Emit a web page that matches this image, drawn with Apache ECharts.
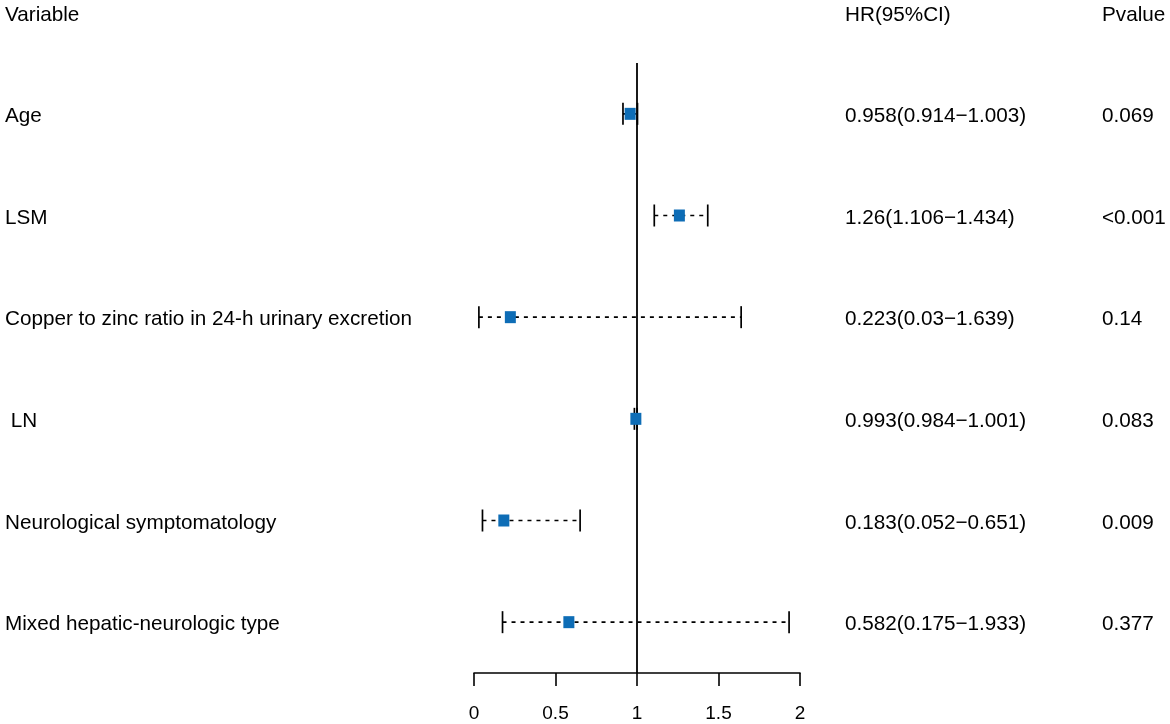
<!DOCTYPE html>
<html>
<head>
<meta charset="utf-8">
<script src="https://cdn.jsdelivr.net/npm/echarts@6/dist/echarts.min.js"></script>
<style>
html, body { margin: 0; padding: 0; background: #fff; }
#chart { width: 1170px; height: 724px; }
</style>
</head>
<body>
<div id="chart"></div>
<script type="text/javascript">
// data
var variables = ['Age', 'LSM', 'Copper to zinc ratio in 24-h urinary excretion', ' LN', 'Neurological symptomatology', 'Mixed hepatic-neurologic type'];
var hr = [0.958, 1.26, 0.223, 0.993, 0.183, 0.582];
var lower = [0.914, 1.106, 0.03, 0.984, 0.052, 0.175];
var upper = [1.003, 1.434, 1.639, 1.001, 0.651, 1.933];
var hrText = ['0.958(0.914\u22121.003)', '1.26(1.106\u22121.434)', '0.223(0.03\u22121.639)', '0.993(0.984\u22121.001)', '0.183(0.052\u22120.651)', '0.582(0.175\u22121.933)'];
var pText = ['0.069', '<0.001', '0.14', '0.083', '0.009', '0.377'];
var refLine = 1;

var FONT = 'Liberation Sans, Arial, sans-serif';
var FS = 20.7;
var myChart = echarts.init(document.getElementById('chart'));

var ciData = [];
var ptData = [];
for (var i = 0; i < variables.length; i++) {
    ciData.push([lower[i], upper[i], i]);
    ptData.push([hr[i], i]);
}

// whisker: dashed line plus end caps
function renderCI(params, api) {
    var p0 = api.coord([api.value(0), api.value(2)]);
    var p1 = api.coord([api.value(1), api.value(2)]);
    var h = 11;
    return {
        type: 'group',
        children: [
            {type: 'line', shape: {x1: p0[0], y1: p0[1], x2: p1[0], y2: p1[1]},
             style: {stroke: '#000', lineWidth: 1.6, lineDash: [4, 5]}},
            {type: 'line', shape: {x1: p0[0], y1: p0[1] - h, x2: p0[0], y2: p0[1] + h},
             style: {stroke: '#000', lineWidth: 1.7}},
            {type: 'line', shape: {x1: p1[0], y1: p1[1] - h, x2: p1[0], y2: p1[1] + h},
             style: {stroke: '#000', lineWidth: 1.7}}
        ]
    };
}

function labelAxis(data, pos, margin, offset) {
    return {
        type: 'category',
        data: data,
        inverse: true,
        position: pos,
        offset: offset || 0,
        axisLine: {show: false},
        axisTick: {show: false},
        splitLine: {show: false},
        axisLabel: {
            align: 'left', margin: margin,
            formatter: function (v) { return '{t|' + v + '}'; },
            rich: {t: {color: '#000', fontSize: FS, fontFamily: FONT, padding: [5, 0, 0, 0]}}
        }
    };
}

option = {
    backgroundColor: '#fff',
    animation: false,
    grid: {left: 474, width: 326, top: 63, bottom: 51},
    graphic: [
        {type: 'text', left: 5, top: 5, style: {text: 'Variable', font: FS + 'px ' + FONT, fill: '#000'}},
        {type: 'text', left: 845, top: 5, style: {text: 'HR(95%CI)', font: FS + 'px ' + FONT, fill: '#000'}},
        {type: 'text', left: 1102, top: 5, style: {text: 'Pvalue', font: FS + 'px ' + FONT, fill: '#000'}}
    ],
    xAxis: {
        type: 'value',
        min: 0,
        max: 2,
        interval: 0.5,
        splitLine: {show: false},
        axisLine: {show: true, onZero: false, lineStyle: {color: '#000', width: 1.6}},
        axisTick: {show: true, inside: false, length: 13, lineStyle: {color: '#000', width: 1.6}},
        axisLabel: {color: '#000', fontSize: 19, fontFamily: FONT, margin: 31}
    },
    yAxis: [
        {
            type: 'value',
            min: -0.5,
            max: variables.length - 0.5,
            inverse: true,
            show: false,
            splitLine: {show: false}
        },
        labelAxis(variables, 'left', 469),
        labelAxis(hrText, 'right', 45),
        labelAxis(pText, 'right', 45, 257)
    ],
    series: [
        {
            type: 'line',
            data: [[refLine, -0.5], [refLine, variables.length - 0.5]],
            yAxisIndex: 0,
            symbol: 'none',
            lineStyle: {color: '#000', width: 1.8},
            z: 1
        },
        {
            type: 'custom',
            renderItem: renderCI,
            data: ciData,
            yAxisIndex: 0,
            encode: {x: [0, 1], y: 2},
            z: 2
        },
        {
            type: 'scatter',
            data: ptData,
            yAxisIndex: 0,
            symbol: 'rect',
            symbolSize: [11, 12],
            itemStyle: {color: '#0e6db6', opacity: 1},
            z: 5
        }
    ]
};

myChart.setOption(option);
</script>
</body>
</html>
